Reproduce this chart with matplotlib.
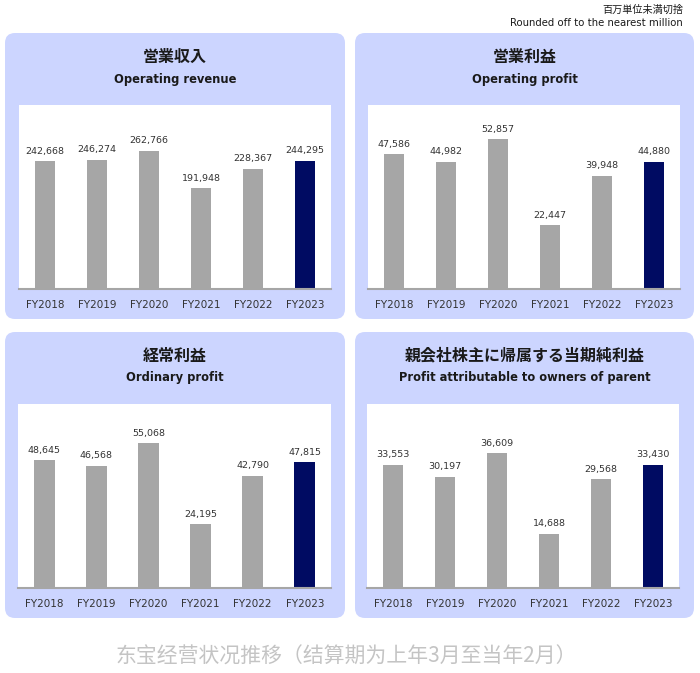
import matplotlib.pyplot as plt
from matplotlib.patches import FancyBboxPatch

plt.rcParams['font.family'] = ['DejaVu Sans', 'Noto Sans CJK JP']

years = ['FY2018', 'FY2019', 'FY2020', 'FY2021', 'FY2022', 'FY2023']

operating_revenue = [242668, 246274, 262766, 191948, 228367, 244295]
operating_profit = [47586, 44982, 52857, 22447, 39948, 44880]
ordinary_profit = [48645, 46568, 55068, 24195, 42790, 47815]
net_profit = [33553, 30197, 36609, 14688, 29568, 33430]

titles_jp = ['営業収入', '営業利益', '経常利益', '親会社株主に帰属する当期純利益']
titles_en = ['Operating revenue', 'Operating profit', 'Ordinary profit',
             'Profit attributable to owners of parent']
series = [operating_revenue, operating_profit, ordinary_profit, net_profit]
y_max = [350000, 65000, 70000, 50000]

W, H = 700, 673
PANEL_COLOR = '#ccd5ff'
GRAY = '#a6a6a6'
NAVY = '#000b62'
TEXT = '#333333'

fig = plt.figure(figsize=(W / 100, H / 100), dpi=100)

# background axes in pixel coordinates
bg = fig.add_axes([0, 0, 1, 1])
bg.set_xlim(0, W)
bg.set_ylim(H, 0)
bg.axis('off')

# panel boxes: (left, top, right, bottom) in pixels
panels = [(5, 33, 345, 319), (355, 33, 694, 319),
          (5, 332, 345, 618), (355, 332, 694, 618)]
# white plot areas inside the panels
plot_areas = [(19, 105, 331, 289), (368, 105, 680, 289),
              (18, 404, 331, 588), (367, 404, 679, 588)]

for i, (l, t, r, b) in enumerate(panels):
    box = FancyBboxPatch((l + 10, t + 10), r - l - 20, b - t - 20,
                         boxstyle='round,pad=10', facecolor=PANEL_COLOR,
                         edgecolor='none')
    bg.add_patch(box)
    cx = (l + r) / 2
    bg.text(cx, t + 24, titles_jp[i], ha='center', va='center',
            fontsize=11.5, fontweight='bold', color='#1a1a1a')
    bg.text(cx, t + 46, titles_en[i], ha='center', va='center',
            fontsize=8.3, fontweight='bold', color='#1a1a1a')

    al, at, ar, ab = plot_areas[i]
    ax = fig.add_axes([al / W, 1 - ab / H, (ar - al) / W, (ab - at) / H])
    ax.set_facecolor('white')
    colors = [GRAY] * (len(years) - 1) + [NAVY]
    bars = ax.bar(years, series[i], width=0.4, color=colors)
    ax.bar_label(bars, labels=[f'{v:,}' for v in series[i]], padding=4,
                 fontsize=6.8, color=TEXT)
    ax.set_xlim(-0.5, len(years) - 0.5)
    ax.set_ylim(0, y_max[i])
    for side in ['top', 'left', 'right']:
        ax.spines[side].set_visible(False)
    ax.spines['bottom'].set_color(GRAY)
    ax.spines['bottom'].set_linewidth(1.5)
    ax.set_yticks([])
    ax.tick_params(axis='x', length=0, pad=8, labelsize=7.5, labelcolor=TEXT)

# notes at the top right
bg.text(683, 10, '百万単位未満切捨', ha='right', va='center',
        fontsize=7.3, color='#1a1a1a')
bg.text(683, 22.5, 'Rounded off to the nearest million', ha='right',
        va='center', fontsize=7.3, color='#1a1a1a')

# caption
bg.text(346, 657, '东宝经营状况推移（结算期为上年3月至当年2月）', ha='center',
        va='center', fontsize=15, color='#c4c4c4',
        family=['Noto Sans CJK SC', 'DejaVu Sans'])

fig.savefig('out.png', dpi=100)
